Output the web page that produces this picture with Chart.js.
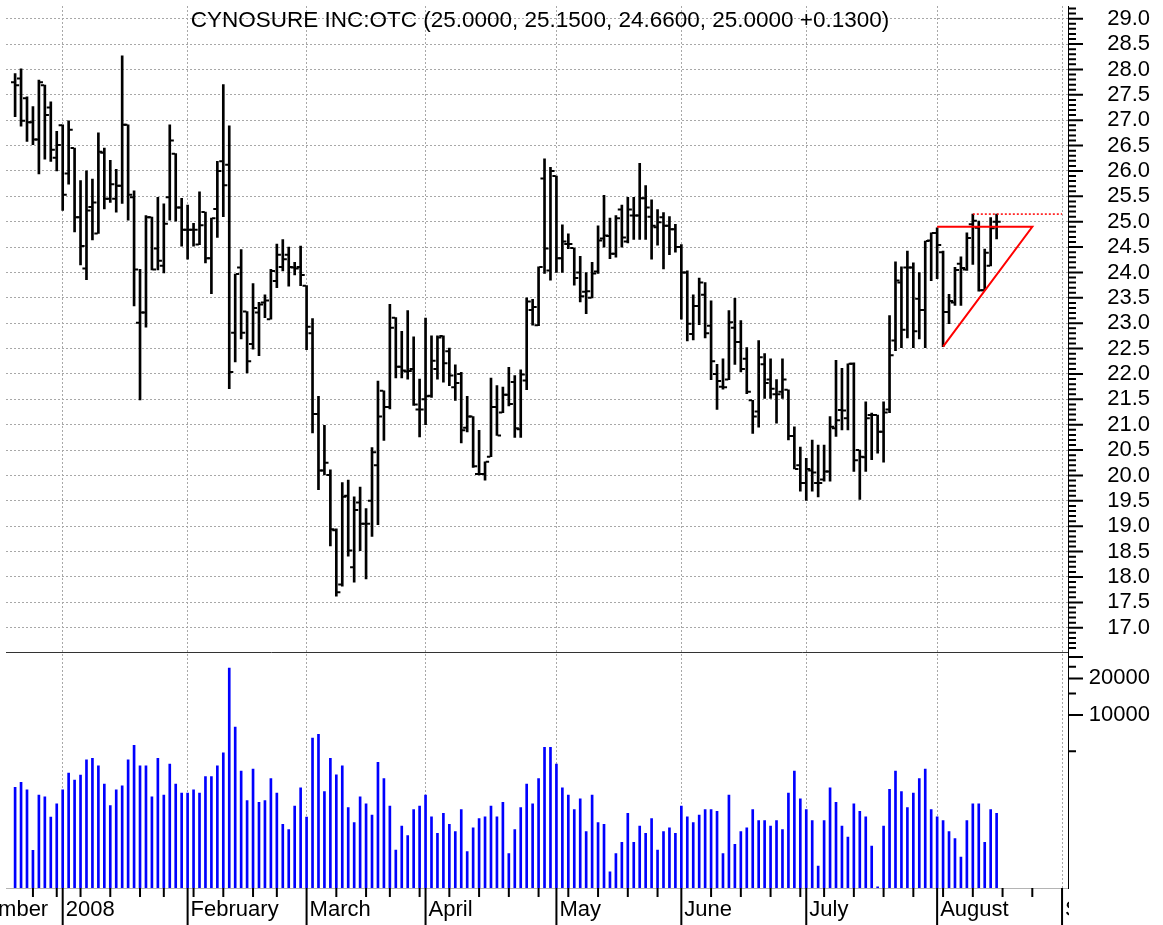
<!DOCTYPE html>
<html lang="en">
<head>
  <meta charset="UTF-8">
  <title>CYNOSURE INC:OTC</title>
  <script src="https://cdn.jsdelivr.net/npm/chart.js"></script>
  <style>
    html, body { margin: 0; padding: 0; background: #ffffff; }
    .chart-container { width: 1163px; height: 925px; position: relative; }
  </style>
</head>
<body>
  <div class="chart-container">
    <canvas id="stockChart"></canvas>
  </div>

  <script>
    const titleText = 'CYNOSURE INC:OTC (25.0000, 25.1500, 24.6600, 25.0000 +0.1300)';

    // daily bars, 19 Dec 2007 .. 15 Aug 2008 (index = trading day)
    const opens = [
      27.75, 27.82, 27.43, 26.96, 26.62, 27.69, 27.25, 26.26, 26.90, 25.95,
      26.45, 25.09, 24.08, 25.29, 24.77, 26.36, 25.45, 25.45, 25.71, 26.91,
      25.48, 23.01, 23.21, 25.09, 24.47, 24.13, 25.48, 26.34, 25.28, 24.84,
      24.84, 24.55, 25.19, 24.28, 25.25, 26.19, 26.12, 22.81, 24.10, 23.23,
      22.59, 23.21, 23.41, 23.08, 23.83, 24.11, 24.35, 24.10, 24.11, 23.74,
      22.80, 21.21, 20.10, 20.01, 18.92, 17.85, 19.60, 18.19, 19.47, 19.05,
      19.50, 20.20, 21.67, 21.35, 23.11, 22.14, 22.05, 22.10, 21.30, 21.50,
      21.57, 22.10, 22.75, 22.45, 21.74, 22.00, 20.94, 21.16, 20.03, 20.03,
      20.37, 21.35, 21.24, 21.59, 21.84, 20.91, 21.87, 23.26, 22.96, 25.85,
      24.04, 25.90, 24.28, 24.56, 24.48, 24.00, 23.62, 23.50, 24.02, 24.67,
      24.72, 24.37, 25.24, 24.61, 25.12, 25.12, 25.46, 25.10, 24.89, 25.09,
      24.92, 24.85, 24.50, 24.00, 22.79, 23.34, 23.56, 22.95, 22.00, 21.75,
      21.89, 22.91, 22.63, 22.30, 21.48, 21.26, 22.19, 21.89, 21.60, 21.65,
      21.69, 20.78, 20.20, 19.85, 20.10, 19.85, 19.92, 20.08, 20.93, 21.29,
      21.13, 22.20, 20.50, 20.36, 21.19, 21.19, 20.86, 21.30, 22.66, 23.80,
      24.10, 24.10, 23.48, 23.26, 24.63, 24.78, 24.40, 23.22, 23.41, 24.17,
      24.06, 24.95, 24.88, 23.65, 24.13, 25.00
    ];
    const highs = [
      27.92, 28.01, 27.46, 27.27, 27.79, 27.69, 27.36, 26.78, 26.91, 26.99,
      26.45, 25.81, 26.00, 25.84, 26.75, 26.45, 26.21, 26.03, 28.27, 26.91,
      25.61, 24.06, 25.12, 25.09, 25.48, 25.35, 26.91, 26.34, 25.46, 25.33,
      24.97, 25.59, 25.19, 25.07, 26.19, 27.70, 26.89, 23.97, 24.45, 23.23,
      23.78, 23.41, 23.56, 24.06, 24.56, 24.65, 24.50, 24.20, 24.52, 23.74,
      23.09, 21.56, 20.99, 20.11, 18.95, 19.86, 19.91, 19.58, 19.77, 19.35,
      20.55, 21.86, 21.67, 23.37, 23.11, 22.84, 23.25, 22.73, 21.90, 23.10,
      22.75, 22.75, 22.75, 22.51, 22.18, 22.03, 21.56, 21.16, 20.89, 20.27,
      21.92, 21.77, 21.74, 22.13, 21.97, 22.08, 23.50, 23.47, 24.11, 26.24,
      26.07, 25.90, 24.94, 24.76, 24.48, 24.32, 24.00, 24.20, 24.92, 25.52,
      25.07, 25.12, 25.33, 25.48, 25.48, 26.15, 25.71, 25.43, 25.24, 25.18,
      25.10, 24.95, 24.55, 24.03, 23.56, 23.89, 23.80, 23.44, 22.19, 22.30,
      23.25, 23.49, 23.05, 22.52, 21.48, 22.66, 22.40, 22.30, 21.89, 22.30,
      21.69, 20.96, 20.56, 20.34, 20.70, 20.60, 20.60, 21.16, 22.27, 22.11,
      22.20, 22.22, 20.50, 21.45, 21.23, 21.19, 21.45, 23.15, 24.21, 24.11,
      24.42, 24.19, 24.00, 24.62, 24.78, 24.88, 24.42, 23.57, 24.10, 24.31,
      24.78, 25.15, 25.01, 24.46, 25.08, 25.15
    ];
    const lows = [
      27.07, 26.88, 26.58, 26.52, 25.94, 26.23, 26.19, 26.00, 25.22, 25.74,
      24.80, 24.15, 23.86, 24.64, 24.77, 25.25, 25.38, 25.19, 25.36, 25.03,
      23.34, 21.49, 22.92, 24.05, 24.05, 23.99, 25.03, 25.01, 24.52, 24.26,
      24.52, 24.55, 24.19, 23.58, 24.69, 25.10, 21.71, 22.24, 22.69, 22.02,
      22.49, 22.36, 23.11, 23.08, 23.70, 24.03, 23.73, 23.95, 23.74, 22.48,
      20.84, 19.72, 20.01, 18.61, 17.62, 17.82, 18.41, 17.90, 18.52, 17.96,
      18.80, 19.03, 20.69, 21.31, 21.92, 21.92, 21.90, 21.38, 20.76, 21.00,
      21.54, 21.90, 21.84, 21.77, 21.48, 20.64, 20.86, 20.16, 20.01, 19.91,
      20.37, 20.79, 21.24, 21.37, 20.75, 20.75, 21.69, 22.96, 22.95, 23.98,
      23.85, 24.00, 24.00, 24.47, 23.75, 23.42, 23.19, 23.50, 23.98, 24.50,
      24.27, 24.30, 24.50, 24.58, 24.65, 24.65, 24.65, 24.26, 24.54, 24.07,
      24.35, 24.40, 23.08, 22.65, 22.67, 22.97, 22.71, 21.89, 21.30, 21.70,
      21.89, 22.19, 22.04, 21.61, 20.83, 20.95, 21.52, 21.52, 21.03, 21.52,
      20.70, 20.13, 19.69, 19.51, 19.69, 19.58, 19.89, 19.89, 20.77, 20.90,
      20.90, 20.08, 19.53, 20.08, 20.31, 20.44, 20.26, 21.24, 22.46, 22.52,
      22.71, 22.52, 22.69, 22.52, 23.84, 23.88, 22.54, 22.99, 23.35, 23.35,
      24.04, 24.16, 23.63, 23.65, 24.13, 24.66
    ];
    const closes = [
      27.69, 26.99, 26.96, 26.62, 27.75, 27.10, 26.42, 26.51, 25.53, 26.81,
      25.09, 24.52, 25.22, 25.38, 26.38, 25.45, 25.74, 25.71, 26.91, 25.53,
      24.06, 23.21, 25.09, 24.06, 24.23, 24.96, 26.60, 25.28, 24.84, 24.84,
      24.84, 24.93, 24.28, 25.07, 26.00, 25.72, 22.04, 23.97, 22.81, 22.25,
      23.30, 23.37, 23.45, 24.03, 24.35, 24.26, 24.11, 24.08, 23.95, 22.93,
      21.21, 20.10, 20.25, 18.94, 17.70, 19.58, 18.52, 19.32, 19.05, 19.05,
      20.46, 21.16, 21.35, 22.91, 22.14, 22.07, 22.06, 21.40, 21.30, 21.56,
      22.26, 22.72, 22.21, 21.97, 21.82, 20.89, 21.16, 20.18, 20.03, 20.27,
      21.35, 20.79, 21.59, 21.41, 20.93, 21.99, 23.43, 23.32, 24.11, 24.47,
      26.00, 24.28, 24.61, 24.56, 23.89, 23.53, 23.63, 23.98, 24.63, 24.73,
      24.37, 25.07, 24.69, 25.24, 25.12, 25.46, 25.28, 24.92, 24.99, 24.92,
      24.85, 24.50, 24.00, 22.99, 23.34, 23.80, 22.80, 22.25, 21.86, 21.74,
      23.02, 22.63, 22.10, 21.65, 21.16, 22.33, 21.82, 21.71, 21.60, 21.89,
      20.78, 20.13, 19.85, 20.13, 20.06, 19.85, 20.08, 20.96, 21.09, 21.28,
      22.20, 20.30, 20.37, 21.13, 21.19, 20.86, 21.24, 22.37, 23.84, 22.87,
      24.10, 22.84, 23.26, 24.62, 24.78, 24.54, 23.22, 23.44, 24.05, 24.09,
      24.68, 25.02, 23.65, 24.39, 24.87, 25.00
    ];
    const volumes = [
      2520, 2770, 2410, 760, 2180, 2110, 1430, 1840, 2410, 3300,
      2900, 3180, 4250, 4380, 3790, 2680, 1780, 2410, 2590, 4250,
      5610, 3790, 3790, 2110, 4380, 2180, 3930, 2680, 2260, 2260,
      2410, 2260, 3100, 3100, 3790, 4850, 24300, 7940, 3430, 1960,
      3560, 1900, 1960, 2980, 2260, 1250, 1130, 1770, 2500, 1430,
      6430, 6900, 2330, 4380, 3200, 3790, 1720, 1290, 2110, 1840,
      1490, 4060, 2980, 1770, 765, 1210, 1010, 1650, 1770, 2180,
      1440, 1050, 1540, 1250, 1090, 1650, 745, 1170, 1390, 1440,
      1770, 1440, 1900, 715, 1130, 1720, 2680, 1840, 2980, 5400,
      5400, 3930, 2500, 2180, 1650, 2030, 1090, 2180, 1290, 1250,
      505, 715, 885, 1540, 885, 1210, 1050, 1390, 765, 1090,
      1170, 1050, 1770, 1440, 1290, 1490, 1650, 1650, 1600, 715,
      2180, 855, 1090, 1170, 1650, 1340, 1340, 1210, 1340, 1130,
      2260, 3430, 2030, 1650, 1340, 565, 1340, 2500, 1900, 1210,
      980, 1840, 1600, 1440, 825, 380, 1210, 2430, 3430, 2330,
      1720, 2260, 2980, 3560, 1650, 1440, 1340, 1090, 950, 670,
      1340, 1840, 1840, 885, 1650, 1540
    ];

    // first trading day of each month / week (as bar index)
    const monthStarts = [-12, 8, 29, 49, 69, 91, 112, 133, 155, 176];
    const monthLabels = ['December', '2008', 'February', 'March', 'April', 'May', 'June', 'July', 'August', 'September'];
    const weekStarts = [3, 7, 11, 16, 21, 25, 30, 35, 40, 44, 49, 54, 59, 63, 68, 73, 78, 83, 88,
      93, 98, 103, 108, 112, 117, 122, 127, 132, 136, 141, 146, 151, 156, 161, 166, 171, 176];

    const volumeTicks = [5000, 10000, 15000, 20000, 25000, 30000];
    const volumeLabels = [10000, 20000];

    // drawn trend lines (bar index, price)
    const triangleLine = [{ x: 155, y: 24.90 }, { x: 171, y: 24.90 }, { x: 156, y: 22.54 }];
    const highLine = [{ x: 161, y: 25.15 }, { x: 176, y: 25.15 }];

    const fontFamily = '"Liberation Sans", Arial, Helvetica, sans-serif';
    Chart.defaults.font.family = fontFamily;
    Chart.defaults.color = '#000000';

    const idx = opens.map((_, i) => i);
    const rangeData = idx.map(i => ({ x: i, y: [lows[i], highs[i]] }));
    const openData = idx.map(i => ({ x: i - 0.4, y: opens[i] }));
    const closeData = idx.map(i => ({ x: i + 0.4, y: closes[i] }));
    const volumeData = idx.map(i => ({ x: i, y: volumes[i] }));

    const gridGray = '#a8a8a8';
    const isMajor = v => Math.round(v * 10) % 5 === 0;

    // tick marks, panel divider and title
    const chartDecor = {
      id: 'chartDecor',
      afterDraw(chart) {
        const { ctx, chartArea, scales } = chart;
        const x = scales.x, price = scales.price, vol = scales.vol;
        ctx.save();

        // x labels are cut at the right edge of the plot
        ctx.fillStyle = '#ffffff';
        ctx.fillRect(chartArea.right + 1, x.top + 1, chart.width - chartArea.right, x.bottom - x.top);

        ctx.strokeStyle = '#000000';
        ctx.lineWidth = 2;
        ctx.beginPath();
        price.ticks.forEach(t => {
          const y = price.getPixelForValue(t.value);
          const len = isMajor(t.value) ? 15 : 8;
          ctx.moveTo(chartArea.right, y);
          ctx.lineTo(chartArea.right + len, y);
        });
        vol.ticks.forEach(t => {
          const y = vol.getPixelForValue(t.value);
          const len = t.value % 10000 === 0 ? 15 : 8;
          ctx.moveTo(chartArea.right, y);
          ctx.lineTo(chartArea.right + len, y);
        });
        x.ticks.forEach(t => {
          const px = x.getPixelForValue(t.value);
          if (px < 0 || px > chartArea.right) return;
          const isMonth = monthStarts.includes(t.value);
          ctx.moveTo(px, x.top);
          ctx.lineTo(px, isMonth ? x.bottom : x.top + 9);
        });
        ctx.stroke();

        ctx.lineWidth = 1;
        ctx.strokeStyle = '#333333';
        ctx.beginPath();
        ctx.moveTo(chartArea.left, Math.round(vol.top) + 0.5);
        ctx.lineTo(chartArea.right, Math.round(vol.top) + 0.5);
        ctx.stroke();

        ctx.fillStyle = '#000000';
        ctx.font = '22.5px ' + fontFamily;
        ctx.textAlign = 'center';
        ctx.textBaseline = 'middle';
        ctx.fillText(titleText, (chartArea.left + chartArea.right) / 2 + 3, 21);
        ctx.restore();
      }
    };

    const ctx = document.getElementById('stockChart').getContext('2d');
    const stockChart = new Chart(ctx, {
      type: 'bar',
      data: {
        datasets: [
          {
            type: 'line', data: triangleLine, xAxisID: 'x', yAxisID: 'price',
            borderColor: '#ff0000', borderWidth: 2, pointRadius: 0, tension: 0, fill: false, order: 0
          },
          {
            type: 'line', data: highLine, xAxisID: 'x', yAxisID: 'price',
            borderColor: '#ff0000', borderWidth: 1.5, borderDash: [2, 2], pointRadius: 0, fill: false, order: 0
          },
          {
            type: 'scatter', data: openData, xAxisID: 'x', yAxisID: 'price',
            pointStyle: 'line', pointRadius: 1.7, borderWidth: 2, borderColor: '#000000', order: 1
          },
          {
            type: 'scatter', data: closeData, xAxisID: 'x', yAxisID: 'price',
            pointStyle: 'line', pointRadius: 1.7, borderWidth: 2, borderColor: '#000000', order: 1
          },
          {
            type: 'bar', data: rangeData, xAxisID: 'x', yAxisID: 'price',
            backgroundColor: '#000000', barThickness: 2, grouped: false, order: 1
          },
          {
            type: 'bar', data: volumeData, xAxisID: 'x', yAxisID: 'vol',
            backgroundColor: '#0000ff', barThickness: 2, grouped: false, order: 1
          }
        ]
      },
      options: {
        responsive: true,
        maintainAspectRatio: false,
        animation: false,
        events: [],
        layout: { padding: { left: 0, top: 0, bottom: 0, right: 13 } },
        plugins: {
          legend: { display: false },
          tooltip: { enabled: false },
          title: { display: false }
        },
        scales: {
          x: {
            type: 'linear',
            position: 'bottom',
            min: -1.53,
            max: 177,
            offset: false,
            afterBuildTicks: s => {
              const vals = [...new Set([...monthStarts, ...weekStarts])].sort((a, b) => a - b);
              s.ticks = vals.map(v => ({ value: v }));
            },
            afterFit: s => { s.height = 37; s.paddingLeft = 0; s.paddingRight = 0; },
            grid: {
              offset: false,
              drawTicks: false,
              lineWidth: 1,
              color: c => (c.tick && monthStarts.includes(c.tick.value)) ? gridGray : 'rgba(0,0,0,0)'
            },
            border: { display: true, color: '#b4b4b4', width: 1, dash: [2, 2] },
            ticks: {
              autoSkip: false,
              maxRotation: 0,
              align: 'start',
              labelOffset: 3,
              padding: 9,
              font: { size: 22 },
              color: '#000000',
              callback: v => {
                const m = monthStarts.indexOf(v);
                return m >= 0 ? monthLabels[m] : '';
              }
            }
          },
          price: {
            type: 'linear',
            position: 'right',
            stack: 'panes',
            stackWeight: 650,
            min: 16.53,
            max: 29.25,
            beginAtZero: false,
            afterBuildTicks: s => {
              const t = [];
              for (let k = 166; k <= 292; k++) t.push({ value: k / 10 });
              s.ticks = t;
            },
            afterFit: s => { s.width = 82; s.paddingTop = 0; s.paddingBottom = 0; },
            grid: {
              drawTicks: false,
              lineWidth: 1,
              color: c => (c.tick && isMajor(c.tick.value)) ? gridGray : 'rgba(0,0,0,0)'
            },
            border: { display: true, color: '#000000', width: 1, dash: [2, 2] },
            ticks: {
              autoSkip: false,
              crossAlign: 'far',
              padding: 28,
              font: { size: 22 },
              color: '#000000',
              callback: v => {
                const t = Math.round(v * 10);
                return (t % 5 === 0 && t >= 170 && t <= 290) ? (t / 10).toFixed(1) : '';
              }
            }
          },
          vol: {
            type: 'logarithmic',
            position: 'right',
            stack: 'panes',
            stackWeight: 238,
            min: 372,
            max: 33300,
            afterBuildTicks: s => { s.ticks = volumeTicks.map(v => ({ value: v })); },
            afterFit: s => { s.width = 82; s.paddingTop = 0; s.paddingBottom = 0; },
            grid: { display: false, drawTicks: false },
            border: { display: true, color: '#000000', width: 1 },
            ticks: {
              autoSkip: false,
              crossAlign: 'far',
              padding: 10,
              font: { size: 22 },
              color: '#000000',
              callback: v => volumeLabels.includes(v) ? String(v) : ''
            }
          }
        }
      },
      plugins: [chartDecor]
    });
  </script>
</body>
</html>
